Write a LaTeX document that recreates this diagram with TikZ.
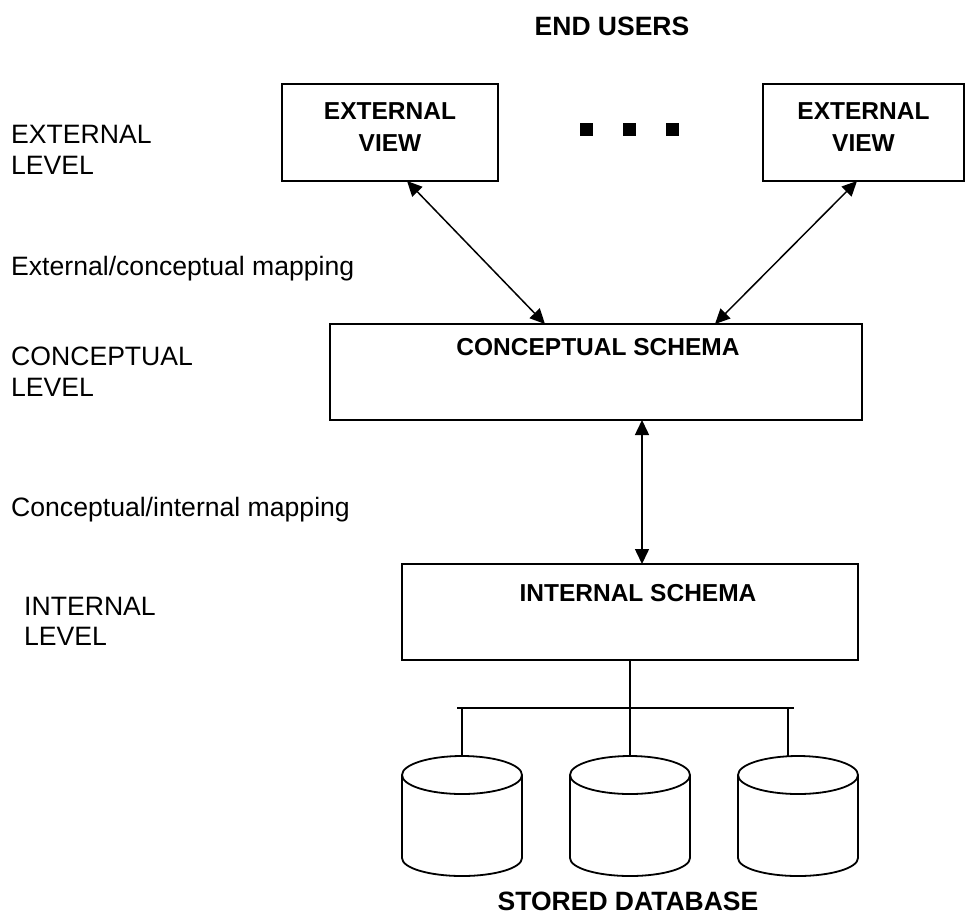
\documentclass[tikz,border=0pt]{standalone}
\usepackage{fontspec}
\setmainfont{Liberation Sans}
\usetikzlibrary{calc, arrows.meta}

\begin{document}
\begin{tikzpicture}[x=1pt, y=-1pt,
    schemabox/.style={draw, line width=1.8pt, inner sep=0pt, outer sep=0pt},
    boxtext/.style={font=\fontsize{24.5}{32}\selectfont\bfseries, inner sep=0pt, align=center},
    titletext/.style={font=\fontsize{26.5}{32}\selectfont\bfseries, inner sep=0pt},
    leveltext/.style={font=\fontsize{26.6}{30.5}\selectfont, inner sep=0pt, align=left},
    maparrow/.style={{Triangle[length=15pt,width=14pt]}-{Triangle[length=15pt,width=14pt]}, line width=1.5pt},
    dbline/.style={line width=1.8pt}]
  \useasboundingbox (0,0) rectangle (966,914);

  % --- titles ---
  \node[titletext, anchor=base] (users) at (612,35) {END USERS};
  \node[titletext, anchor=base] (stored) at (628,910) {STORED DATABASE};

  % --- level labels (left column) ---
  \node[leveltext, anchor=west] (extlvl) at (11,150) {EXTERNAL\\LEVEL};
  \node[leveltext, anchor=base west] (extmap) at (11,275) {External/conceptual mapping};
  \node[leveltext, anchor=west] (conlvl) at (11,371.5) {CONCEPTUAL\\LEVEL};
  \node[leveltext, anchor=base west] (conmap) at (11,516) {Conceptual/internal mapping};
  \node[leveltext, anchor=west] (intlvl) at (24,621.5) {INTERNAL\\LEVEL};

  % --- external views ---
  \node[schemabox, minimum width=216pt, minimum height=97pt] (ev1) at (390,132.5) {};
  \node[boxtext] (ev1t) at (390,127.5) {EXTERNAL\\VIEW};
  \node[schemabox, minimum width=201pt, minimum height=97pt] (ev2) at (863.5,132.5) {};
  \node[boxtext] (ev2t) at (863.5,127.5) {EXTERNAL\\VIEW};
  % dots between the views
  \foreach \dx in {586.5, 629, 672}
    \fill (\dx-6.5,123) rectangle (\dx+6.5,136);

  % --- conceptual and internal schema ---
  \node[schemabox, minimum width=532pt, minimum height=96pt] (cs) at (596,372) {};
  \node[boxtext, anchor=base] (cst) at (598,355) {CONCEPTUAL SCHEMA};
  \node[schemabox, minimum width=456pt, minimum height=96pt] (is) at (630,612) {};
  \node[boxtext, anchor=base] (ist) at (638,601) {INTERNAL SCHEMA};

  % --- mappings ---
  \coordinate (a1) at ([xshift=17pt]ev1.south);
  \coordinate (b1) at ([xshift=-51pt]cs.north);
  \coordinate (a2) at ([xshift=-6.5pt]ev2.south);
  \coordinate (b2) at ([xshift=119pt]cs.north);
  \coordinate (a3) at ([xshift=46pt]cs.south);
  \coordinate (b3) at (a3 |- is.north);
  \draw[maparrow] (a1) -- (b1);
  \draw[maparrow] (a2) -- (b2);
  \draw[maparrow] (a3) -- (b3);

  % --- stored database ---
  \coordinate (db1) at (462,756);
  \coordinate (db2) at (630,756);
  \coordinate (db3) at (788,756.5);
  \coordinate (busL) at (457,708);
  \coordinate (busR) at (794,708);
  \coordinate (busM) at (is.south |- busL);
  \draw[dbline] (is.south) -- (busM);
  \draw[dbline] (busL) -- (busR);
  \foreach \d in {db1, db2, db3}
    \draw[dbline] (\d |- busL) -- (\d);
  \foreach \cx in {462, 630, 798} {
    \draw[dbline] (\cx-60,775) -- (\cx-60,858)
      arc[start angle=180, end angle=0, x radius=60, y radius=18] -- (\cx+60,775);
    \draw[dbline] (\cx,775) ellipse [x radius=60, y radius=19];
  }
\end{tikzpicture}
\end{document}
